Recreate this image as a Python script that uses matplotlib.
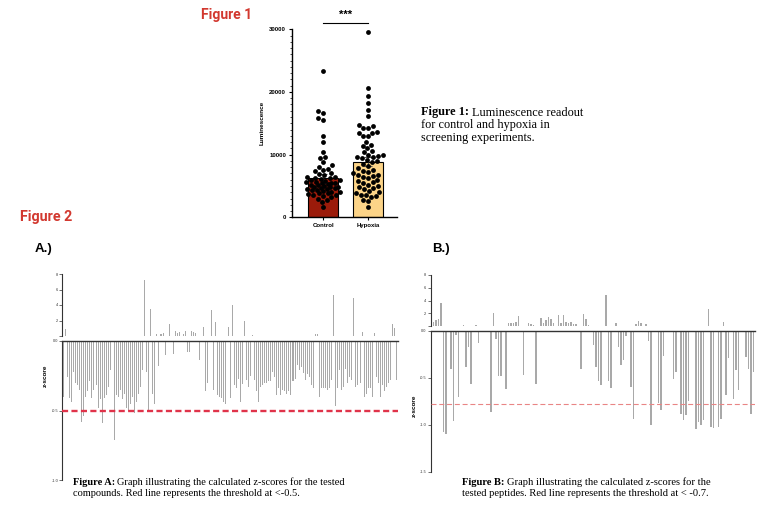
import matplotlib
matplotlib.use("Agg")
import matplotlib.pyplot as plt
import numpy as np

plt.rcParams['font.family'] = ['Liberation Sans', 'DejaVu Sans']
plt.rcParams['lines.scale_dashes'] = False

W, H = 767, 511
RED_TITLE = '#d2382f'
BAR_GRAY = '#a9a9a9'

# ---- Figure 1 data (luminescence) ----
groups = ['Control', 'Hypoxia']
bar_means = [6200, 8900]
bar_sem = [650, 700]
bar_colors = ['#9b1b0a', '#fcd488']
control = [23300, 17000, 16700, 15800, 15500, 13000, 12000, 10500, 9700, 9500,
           8800, 8300, 8100, 7700, 7600, 7400,
           7000, 6900, 6700, 6500, 6400, 6300, 6200, 6100, 6000, 5900,
           5800, 5700, 5600, 5500, 5500, 5400, 5300, 5200, 5100, 5000,
           4900, 4800, 4800, 4700, 4600, 4500, 4500, 4400, 4300, 4200,
           4100, 4000, 3900, 3800, 3700, 3600, 3500, 3400, 3200, 3000,
           2800, 2500, 1700]
hypoxia = [29500, 20700, 19400, 18300, 17200, 16100, 14800, 14500, 14300, 14300,
           13600, 13500, 13400, 13000, 12900, 12000, 11600, 11300, 11000, 10600,
           10400, 10000, 9900, 9800, 9700, 9600, 9400, 9200, 9000, 8800,
           8500, 8200, 7800, 7500, 7400, 7200, 7000, 6800, 6700, 6600,
           6500, 6200, 6000, 5800, 5600, 5500, 5200, 5000, 4800, 4600,
           4500, 4200, 4000, 3800, 3600, 3500, 3400, 3300, 2800, 2600, 1600]

# ---- Figure 2 data (z-scores) ----
zA = [-0.40, 0.9, -0.26, -0.41, -0.44, -0.22, -0.30, -0.32, -0.35, -0.58,
      -0.54, -0.40, -0.36, -0.29, -0.41, -0.35, -0.32, -0.48, -0.42, -0.59,
      -0.41, -0.39, -0.33, -0.21, 0,
      -0.71, -0.39, -0.40, -0.35, -0.42, -0.38, -0.48, -0.50, -0.45, -0.40,
      -0.52, -0.44, -0.38, -0.33, -0.21,
      7.2, -0.22, -0.50, 3.5, -0.38, -0.45, 0.3, -0.18, 0.3, 0.4,
      -0.10, 0, 1.6, 0, -0.09, 0.6, 0.4, 0.5, 0, 0.3,
      0.6, -0.08, -0.08, 0.6, 0.5, 0.4, 0, -0.14, 0, 1.2,
      -0.36, -0.30, 0, 3.4, -0.35, 1.8, -0.39, -0.40, -0.41, -0.44,
      -0.45, 1.2, -0.41,
      4.0, -0.32, -0.34, -0.27, -0.44, -0.31, 1.9, -0.28, -0.33, -0.25,
      0.1, -0.28, -0.36, -0.44, -0.33, -0.32, -0.30, -0.30, -0.29, -0.29,
      -0.22, -0.26, -0.39, -0.34, -0.39, -0.35, -0.36, -0.38, -0.36, -0.39,
      -0.29, -0.27, -0.17, -0.21, -0.19, -0.23, -0.28, -0.24, -0.26, -0.32,
      -0.34, 0.3, 0.3, -0.40, -0.34, -0.34, -0.34, -0.35, -0.34, -0.28,
      5.3, -0.47, -0.34, -0.21, -0.35, -0.33, -0.20, -0.30, -0.26, -0.28,
      4.9, -0.33, -0.32, -0.30, 0.5, -0.40, -0.38, -0.34, -0.34, -0.40,
      0.4, -0.26, -0.30, -0.40, -0.32, -0.36, -0.33, -0.30, -0.28, 1.5,
      1.0, -0.28]
zB = [-1.21, 0.7, 1.0, 1.1, 3.6, -1.08, -1.10, 0, -0.41, -0.96,
      -0.04, -0.70, 0, 0.2, -0.38, -0.17, -0.56, 0, 0.2, -0.13,
      0.05, 0.05, 0.05, 0, -0.86, 2.1, -0.09, -0.48, -0.48, 0,
      -0.62, 0.5, 0.5, 0.4, 0.6, 1.5, 0, -0.47, 0, 0.5,
      0.3, 0.2, -0.57, 0, 1.2, 0.5, 0.9, 1.4, 1.1, 0.4,
      0, 1.8, 0.5, 1.7, 0.7, 0.5, 0.6, 0.3, 0.3, 0,
      -0.41, 1.9, 1.1, 0.2, 0, -0.15, -0.38, -0.53, -0.58, 0,
      4.8, -0.53, -0.61, 0, 0.5, -0.17, -0.36, -0.31, -0.05, 0,
      -0.60, -0.94, 0.3, 0.8, 0.5, 0, 0.3, -0.11, -1.00, 0,
      0.05, -0.77, -0.84, -0.27, 0, 0, 0.05, -0.51, -0.44, 0,
      -0.88, -0.95, -0.90, -0.75, 0, 0.05, -1.05, -0.97, -1.00, -0.95,
      0, 2.6, -1.02, -1.03, 0, -1.02, -0.94, 0.6, -0.68, -0.29,
      0, -0.72, -0.42, -0.63, 0, 0, -0.28, -0.41, -0.88, -0.44]
thrA = -0.5
thrB = -0.78


def rect(x0, y0, x1, y1):
    # pixel box -> figure fraction
    return [x0 / W, 1 - y1 / H, (x1 - x0) / W, (y1 - y0) / H]


def swarm(vals, ypx, d, maxw):
    # simple beeswarm, offsets in pixels
    ys = np.array(vals, dtype=float) * ypx
    xs = np.zeros(len(vals))
    placed = []
    for i in np.argsort(vals):
        x = None
        for dd in (d, d * 0.75, d * 0.5, d * 0.3):
            cands = [0.0]
            blocks = []
            for j in placed:
                dy = ys[i] - ys[j]
                if abs(dy) < dd:
                    h = np.sqrt(dd * dd - dy * dy)
                    blocks.append((xs[j] - h, xs[j] + h))
                    cands += [xs[j] - h, xs[j] + h]
            cands.sort(key=abs)
            for c in cands:
                if abs(c) <= maxw and all(not (a + 1e-6 < c < b - 1e-6) for a, b in blocks):
                    x = c
                    break
            if x is not None:
                break
        xs[i] = 0.0 if x is None else x
        placed.append(i)
    return xs


fig = plt.figure(figsize=(W / 100, H / 100), dpi=100)
renderer = fig.canvas.get_renderer()


def caption(x, y, head, lines, size, step):
    t = fig.text(x / W, 1 - y / H, head, fontsize=size, fontweight='bold',
                 family='Liberation Serif', va='baseline')
    bb = t.get_window_extent(renderer=renderer)
    fig.text((bb.x1 + size * 0.35) / W, 1 - y / H, lines[0], fontsize=size,
             family='Liberation Serif', va='baseline')
    for k, line in enumerate(lines[1:]):
        fig.text(x / W, 1 - (y + step * (k + 1)) / H, line, fontsize=size,
                 family='Liberation Serif', va='baseline')


# ---- titles ----
fig.text(201 / W, 1 - 15 / H, 'Figure 1', color=RED_TITLE, fontsize=10,
         fontweight='bold', family='Roboto', va='center')
fig.text(20 / W, 1 - 217.5 / H, 'Figure 2', color=RED_TITLE, fontsize=10.3,
         fontweight='bold', family='Roboto', va='center')
fig.text(35 / W, 1 - 249 / H, 'A.)', fontsize=9.5, fontweight='bold', va='center')
fig.text(432 / W, 1 - 249 / H, 'B.)', fontsize=9.5, fontweight='bold', va='center')

# ---- Figure 1 chart ----
ax = fig.add_axes(rect(291.7, 29.3, 396.7, 217.3))
xpos = np.arange(len(groups))
ax.bar(xpos, bar_means, width=0.66, color=bar_colors, edgecolor='black',
       linewidth=0.8, zorder=1)
ax.errorbar(xpos, bar_means, yerr=bar_sem, fmt='none', ecolor='#555555',
            elinewidth=0.8, capsize=3, capthick=0.8, zorder=2)
ypx = 188 / 30000
for k, vals in enumerate([control, hypoxia]):
    off = swarm(vals, ypx, 5.2, 17)
    ax.scatter(k + off / 45, vals, s=12, color='black', linewidths=0, zorder=3)
ax.set_xlim(-0.7, 1.64)
ax.set_ylim(0, 30000)
ax.set_yticks([0, 10000, 20000, 30000])
ax.set_yticks(np.arange(0, 30001, 1000), minor=True)
ax.set_xticks(xpos)
ax.set_xticklabels(groups)
for s in ['top', 'right']:
    ax.spines[s].set_visible(False)
for s in ['left', 'bottom']:
    ax.spines[s].set_linewidth(1.0)
ax.tick_params(axis='both', which='major', labelsize=4.3, length=2.5, width=0.8, pad=1.5)
ax.tick_params(axis='y', which='minor', length=1.3, width=0.5)
for lab in ax.get_xticklabels() + ax.get_yticklabels():
    lab.set_fontweight('bold')
ax.set_ylabel('Luminescence', fontsize=4.6, fontweight='bold', labelpad=3)
ax.plot([0, 1], [31050, 31050], color='black', lw=0.8, clip_on=False)
ax.text(0.5, 31500, '***', ha='center', va='bottom', fontsize=8, fontweight='bold')

caption(420.7, 115.5, 'Figure 1:',
        ['Luminescence readout', 'for control and hypoxia in', 'screening experiments.'], 8.8, 12.5)


# ---- Figure 2 charts ----
def zpanel(vals, up_box, lo_box, lo_min, lo_ticks, thr, width, lcolor, lw, dash, xlim):
    idx = np.arange(len(vals))
    v = np.array(vals)
    up = fig.add_axes(rect(*up_box))
    lo = fig.add_axes(rect(*lo_box))
    up.bar(idx, np.where(v > 0, v, 0), width=width, color=BAR_GRAY, linewidth=0)
    lo.bar(idx, np.where(v < 0, v, 0), width=width, color=BAR_GRAY, linewidth=0)
    up.set_ylim(0, 8)
    lo.set_ylim(lo_min, 0)
    for a in (up, lo):
        a.set_xlim(*xlim)
        a.set_xticks([])
        a.spines['right'].set_visible(False)
        a.spines['bottom'].set_visible(False)
        a.spines['left'].set_color('#333333')
        a.spines['left'].set_linewidth(0.8)
        a.tick_params(axis='y', labelsize=2.8, length=2, width=0.5, pad=1,
                      colors='#333333')
        a.patch.set_alpha(0)
    up.spines['top'].set_visible(False)
    lo.spines['top'].set_color('#333333')
    lo.spines['top'].set_linewidth(1.0)
    up.set_yticks([0, 2, 4, 6, 8])
    up.set_yticklabels(['', '2', '4', '6', '8'])
    lo.set_yticks(lo_ticks)
    lo.set_yticklabels(['%.1f' % t for t in lo_ticks])
    lo.axhline(thr, color=lcolor, lw=lw, dashes=dash, zorder=3)
    return up, lo


zpanel(zA, (62.3, 274, 398, 336), (62.3, 341, 398, 480), -1.0, [0.0, -0.5, -1.0],
       thrA, 0.5, '#e0334a', 1.7, (4.4, 2.4), (-0.6, len(zA) - 0.3))
zpanel(zB, (430.5, 275, 755, 326), (430.5, 331, 755, 471.7), -1.5, [0.0, -0.5, -1.0, -1.5],
       thrB, 0.42, '#e98585', 0.8, (3.6, 2.0), (-0.2, len(zB) - 0.4))

fig.text(45 / W, 1 - 376 / H, 'z-score', rotation=90, fontsize=4.6,
         fontweight='bold', ha='center', va='center')
fig.text(414 / W, 1 - 406 / H, 'z-score', rotation=90, fontsize=4.6,
         fontweight='bold', ha='center', va='center')

caption(72.7, 485, 'Figure A:',
        ['Graph illustrating the calculated z-scores for the tested',
         'compounds. Red line represents the threshold at <-0.5.'], 7.5, 10.8)
caption(461.7, 485, 'Figure B:',
        ['Graph illustrating the calculated z-scores for the',
         'tested peptides. Red line represents the threshold at < -0.7.'], 7.6, 10.8)

fig.savefig('out.png', dpi=100)
